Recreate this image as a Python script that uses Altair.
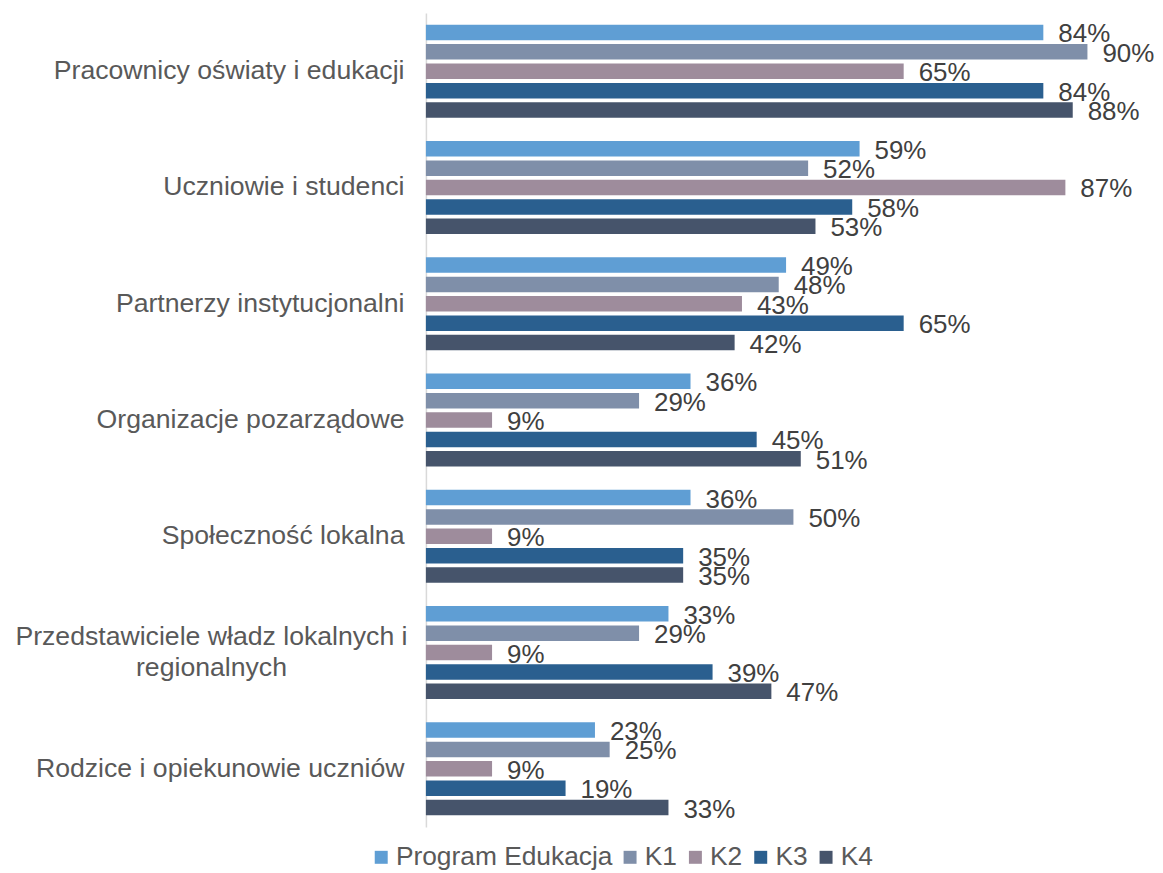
import altair as alt
import pandas as pd

categories = [
    "Pracownicy oświaty i edukacji",
    "Uczniowie i studenci",
    "Partnerzy instytucjonalni",
    "Organizacje pozarządowe",
    "Społeczność lokalna",
    "Przedstawiciele władz lokalnych i regionalnych",
    "Rodzice i opiekunowie uczniów",
]
series = ["Program Edukacja", "K1", "K2", "K3", "K4"]
program_edukacja = [84, 59, 49, 36, 36, 33, 23]
k1 = [90, 52, 48, 29, 50, 29, 25]
k2 = [65, 87, 43, 9, 9, 9, 9]
k3 = [84, 58, 65, 45, 35, 39, 19]
k4 = [88, 53, 42, 51, 35, 47, 33]
colors = ["#5f9ed4", "#7f8fa9", "#9e8c9c", "#2a5f8f", "#46546b"]

rows = []
for s, vals in zip(series, [program_edukacja, k1, k2, k3, k4]):
    for c, v in zip(categories, vals):
        rows.append({"kategoria": c, "seria": s, "v": v / 100})
df = pd.DataFrame(rows)

FONT = "Liberation Sans"
long_label = "Przedstawiciele władz lokalnych i regionalnych"
test = "datum.value == '" + long_label + "'"
label_expr = (
    test + " ? ['Przedstawiciele władz lokalnych i', 'regionalnych'] : datum.label"
)

base = alt.Chart(df).encode(
    y=alt.Y(
        "kategoria:N",
        sort=categories,
        scale=alt.Scale(paddingInner=0, paddingOuter=0),
        axis=alt.Axis(
            title=None,
            ticks=False,
            tickSize=0,
            grid=False,
            domainColor="#d9d9d9",
            domainWidth=1.5,
            labelFont=FONT,
            labelFontSize=26.7,
            labelColor="#595959",
            labelAlign=alt.condition(test, alt.value("center"), alt.value("right")),
            labelPadding=alt.condition(test, alt.value(215.5), alt.value(22)),
            labelOffset=alt.condition(test, alt.value(-15.5), alt.value(0)),
            labelLimit=600,
            labelLineHeight=31,
            labelExpr=label_expr,
        ),
    ),
    yOffset=alt.YOffset(
        "seria:N", sort=series, scale=alt.Scale(paddingInner=0.2, paddingOuter=0.6)
    ),
    x=alt.X("v:Q", scale=alt.Scale(domain=[0, 0.92]), axis=None),
)

bars = base.mark_bar().encode(
    color=alt.Color(
        "seria:N",
        sort=series,
        scale=alt.Scale(domain=series, range=colors),
        legend=alt.Legend(
            title=None,
            orient="none",
            legendX=-58,
            legendY=833,
            direction="horizontal",
            symbolType="square",
            symbolSize=169,
            symbolStrokeWidth=0,
            labelFont=FONT,
            labelFontSize=26.4,
            labelColor="#595959",
            labelOffset=1.5,
            labelLimit=400,
            columnPadding=4.5,
        ),
    )
)

text = base.mark_text(
    align="left", baseline="middle", dx=15, dy=2, fontSize=26, font=FONT, color="#404040"
).encode(text=alt.Text("v:Q", format=".0%"))

chart = (
    alt.layer(bars, text)
    .properties(width=678, height=816, padding={"left": 6, "top": 4, "right": 0, "bottom": 0})
    .configure_view(stroke=None)
)

chart.save("out.html", embed_options={"renderer": "svg", "actions": False})
